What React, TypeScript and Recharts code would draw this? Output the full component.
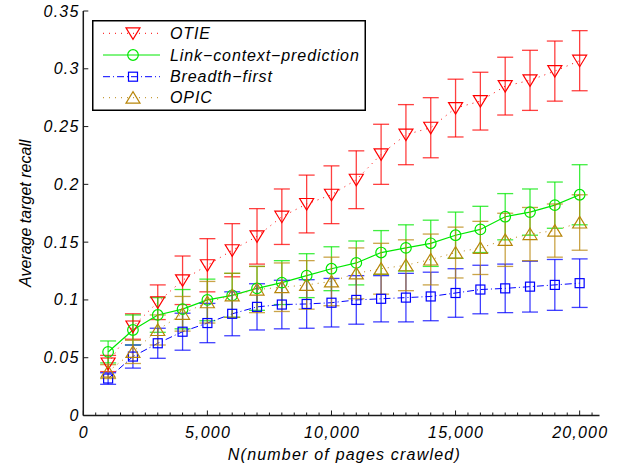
import React from "react";
import { ComposedChart, Line, XAxis, YAxis, ErrorBar, Legend, Label } from "recharts";

const pages = [1000, 2000, 3000, 4000, 5000, 6000, 7000, 8000, 9000, 10000, 11000, 12000, 13000, 14000, 15000, 16000, 17000, 18000, 19000, 20000];

const otie = [0.045, 0.077, 0.098, 0.117, 0.13, 0.143, 0.155, 0.172, 0.183, 0.191, 0.204, 0.226, 0.243, 0.249, 0.266, 0.272, 0.285, 0.29, 0.298, 0.307];
const otieErr = [0.007, 0.011, 0.015, 0.021, 0.023, 0.023, 0.024, 0.024, 0.025, 0.025, 0.025, 0.026, 0.026, 0.026, 0.025, 0.025, 0.025, 0.026, 0.026, 0.026];

const lcp = [0.055, 0.074, 0.087, 0.092, 0.1, 0.104, 0.11, 0.115, 0.121, 0.127, 0.132, 0.141, 0.145, 0.149, 0.156, 0.161, 0.172, 0.176, 0.182, 0.191];
const lcpErr = [0.0095, 0.013, 0.015, 0.017, 0.018, 0.019, 0.019, 0.019, 0.019, 0.019, 0.019, 0.019, 0.02, 0.02, 0.02, 0.02, 0.02, 0.02, 0.02, 0.026];

const bfs = [0.032, 0.051, 0.0625, 0.0725, 0.08, 0.088, 0.094, 0.096, 0.0965, 0.0976, 0.1, 0.101, 0.102, 0.103, 0.106, 0.109, 0.11, 0.1115, 0.113, 0.1145];
const bfsErr = [0.005, 0.01, 0.013, 0.016, 0.017, 0.019, 0.02, 0.021, 0.021, 0.021, 0.021, 0.02, 0.021, 0.021, 0.021, 0.021, 0.021, 0.022, 0.022, 0.021];

const opic = [0.038, 0.055, 0.074, 0.088, 0.098, 0.104, 0.109, 0.111, 0.113, 0.116, 0.123, 0.127, 0.13, 0.135, 0.141, 0.145, 0.152, 0.157, 0.16, 0.167];
const opicErr = [0.006, 0.01, 0.013, 0.015, 0.018, 0.019, 0.02, 0.021, 0.021, 0.021, 0.022, 0.022, 0.022, 0.022, 0.022, 0.023, 0.023, 0.023, 0.023, 0.024];

const xMinor = [0, 500, 1000, 1500, 2000, 2500, 3000, 3500, 4000, 4500, 5000, 5500, 6000, 6500, 7000, 7500, 8000, 8500, 9000, 9500, 10000, 10500, 11000, 11500, 12000, 12500, 13000, 13500, 14000, 14500, 15000, 15500, 16000, 16500, 17000, 17500, 18000, 18500, 19000, 19500, 20000, 20500];
const yTicks = [0, 0.05, 0.1, 0.15, 0.2, 0.25, 0.3, 0.35];

const RED = "#ff0000";
const GREEN = "#00e800";
const BLUE = "#0000ff";
const BROWN = "#b8860b";

const rows = pages.map((x, i) => ({
  x,
  otie: otie[i], otieErr: otieErr[i],
  lcp: lcp[i], lcpErr: lcpErr[i],
  bfs: bfs[i], bfsErr: bfsErr[i],
  opic: opic[i], opicErr: opicErr[i],
}));

const AXIS = "#1a1a1a";
const SPACING = 1.2;

function TriDown({ cx, cy, color }: any) {
  return <polygon points={`${cx - 7},${cy - 5.5} ${cx + 7},${cy - 5.5} ${cx},${cy + 6}`} fill="none" stroke={color} strokeWidth={1.2} />;
}
function TriUp({ cx, cy, color }: any) {
  return <polygon points={`${cx - 7},${cy + 5.5} ${cx + 7},${cy + 5.5} ${cx},${cy - 6}`} fill="none" stroke={color} strokeWidth={1.2} />;
}
function Circ({ cx, cy, color }: any) {
  return <circle cx={cx} cy={cy} r={5.3} fill="none" stroke={color} strokeWidth={1.2} />;
}
function Sq({ cx, cy, color }: any) {
  return <rect x={cx - 4.5} y={cy - 4.5} width={9} height={9} fill="none" stroke={color} strokeWidth={1.2} />;
}

const dotOf = (Shape: any, color: string) => (p: any) =>
  p.cx == null ? <g key={`e${p.index}`} /> : <Shape key={`d${p.index}`} cx={p.cx} cy={p.cy} color={color} />;

// bottom ticks: inward tick lines, labels only at majors
function BottomTick(props: any) {
  const { x, y, payload } = props;
  const v = payload.value;
  const major = v % 5000 === 0;
  const axisY = y - 11.2;
  return (
    <g>
      <line x1={x} x2={x} y1={axisY} y2={axisY - (major ? 5 : 3)} stroke={AXIS} strokeWidth={1} />
      {major && (
        <text x={x + SPACING / 2} y={y + 11.4} textAnchor="middle" fontSize={16} fill="#000" letterSpacing={SPACING}>
          {v.toLocaleString("en-US")}
        </text>
      )}
    </g>
  );
}
function TopTick(props: any) {
  const { x, y, payload } = props;
  const major = payload.value % 5000 === 0;
  return <line x1={x} x2={x} y1={y} y2={y + (major ? 5 : 3)} stroke={AXIS} strokeWidth={1} />;
}
function LeftTick(props: any) {
  const { x, y, payload } = props;
  return (
    <g>
      <line x1={x + 5} x2={x + 10} y1={y} y2={y} stroke={AXIS} strokeWidth={1} />
      <text x={x + SPACING} y={y} textAnchor="end" dominantBaseline="central" fontSize={16} fill="#000" letterSpacing={SPACING}>
        {String(payload.value)}
      </text>
    </g>
  );
}
function RightTick(props: any) {
  const { x, y } = props;
  return <line x1={x} x2={x - 5} y1={y} y2={y} stroke={AXIS} strokeWidth={1} />;
}

const legendItems = [
  { name: "OTIE", color: RED, dash: "1 5", Shape: TriDown },
  { name: "Link\u2212context\u2212prediction", color: GREEN, dash: undefined, Shape: Circ },
  { name: "Breadth\u2212first", color: BLUE, dash: "7 3 1 3", Shape: Sq },
  { name: "OPIC", color: BROWN, dash: "1 5", Shape: TriUp },
];
const legendRowY = [13.3, 35, 56.7, 77.7];

function renderLegend() {
  return (
    <svg width={274} height={91} style={{ display: "block" }}>
      <rect x={0.75} y={0.75} width={272.5} height={89.5} fill="#fff" stroke="#000" strokeWidth={1.5} />
      {legendItems.map((it, i) => (
        <g key={it.name}>
          <line x1={11} x2={68} y1={legendRowY[i]} y2={legendRowY[i]} stroke={it.color} strokeWidth={1} strokeDasharray={it.dash} />
          <it.Shape cx={41} cy={legendRowY[i]} color={it.color} />
          <text x={78} y={legendRowY[i]} dominantBaseline="central" fontSize={16} fill="#000" letterSpacing={0.9}>
            {it.name}
          </text>
        </g>
      ))}
    </svg>
  );
}

export default function App() {
  return (
    <div
      style={{
        position: "absolute",
        left: 0,
        top: 0,
        width: 618,
        height: 466,
        background: "#fff",
        fontFamily: "'Liberation Sans', Arial, sans-serif",
        fontStyle: "italic",
      }}
    >
      <ComposedChart width={618} height={466} data={rows} margin={{ top: 11, right: 18.5, bottom: 0, left: 0 }}>
        <XAxis
          xAxisId="main"
          dataKey="x"
          type="number"
          domain={[0, 20800]}
          allowDataOverflow
          ticks={xMinor}
          interval={0}
          height={50.5}
          tickSize={0}
          tickMargin={11.2}
          tickLine={false}
          tick={<BottomTick />}
          axisLine={{ stroke: AXIS, strokeWidth: 1.5 }}
        >
          <Label value="N(number of pages crawled)" position="insideBottom" offset={6.5} dx={3} fontSize={16} fill="#000" letterSpacing={SPACING} />
        </XAxis>
        <XAxis
          xAxisId="top"
          orientation="top"
          type="number"
          domain={[0, 20800]}
          allowDataOverflow
          ticks={xMinor}
          interval={0}
          height={0}
          tickSize={0}
          tickMargin={0}
          tickLine={false}
          tick={<TopTick />}
          axisLine={{ stroke: AXIS, strokeWidth: 1.5 }}
        />
        <YAxis
          yAxisId="main"
          type="number"
          domain={[0, 0.35]}
          allowDataOverflow
          ticks={yTicks}
          interval={0}
          width={83.3}
          tickSize={0}
          tickMargin={5}
          tickLine={false}
          tick={<LeftTick />}
          axisLine={{ stroke: AXIS, strokeWidth: 1.5 }}
          label={{
            content: ({ viewBox }: any) => {
              const cx = viewBox.x + 25;
              const cy = viewBox.y + viewBox.height / 2;
              return (
                <text x={cx} y={cy} transform={`rotate(-90 ${cx} ${cy})`} textAnchor="middle" dominantBaseline="central" fontSize={16} fill="#000">
                  Average target recall
                </text>
              );
            },
          }}
        />
        <YAxis
          yAxisId="right"
          orientation="right"
          type="number"
          domain={[0, 0.35]}
          allowDataOverflow
          ticks={yTicks}
          interval={0}
          width={0}
          tickSize={0}
          tickMargin={0}
          tickLine={false}
          tick={<RightTick />}
          axisLine={{ stroke: AXIS, strokeWidth: 1.5 }}
        />
        <Legend
          layout="vertical"
          align="center"
          verticalAlign="middle"
          wrapperStyle={{ left: 92, top: 20, width: 274, height: 91 }}
          content={renderLegend}
        />
        <Line xAxisId="main" yAxisId="main" type="linear" dataKey="otie" name="OTIE" stroke={RED} strokeWidth={1} strokeDasharray="1 5" dot={dotOf(TriDown, RED)} activeDot={false} isAnimationActive={false}>
          <ErrorBar dataKey="otieErr" direction="y" width={8} stroke={RED} strokeWidth={1.3} strokeOpacity={0.75} />
        </Line>
        <Line xAxisId="main" yAxisId="main" type="linear" dataKey="lcp" name="Link-context-prediction" stroke={GREEN} strokeWidth={1.2} dot={dotOf(Circ, GREEN)} activeDot={false} isAnimationActive={false}>
          <ErrorBar dataKey="lcpErr" direction="y" width={8} stroke={GREEN} strokeWidth={1.3} strokeOpacity={0.75} />
        </Line>
        <Line xAxisId="main" yAxisId="main" type="linear" dataKey="bfs" name="Breadth-first" stroke={BLUE} strokeWidth={1} strokeDasharray="7 3 1 3" dot={dotOf(Sq, BLUE)} activeDot={false} isAnimationActive={false}>
          <ErrorBar dataKey="bfsErr" direction="y" width={8} stroke={BLUE} strokeWidth={1.3} strokeOpacity={0.75} />
        </Line>
        <Line xAxisId="main" yAxisId="main" type="linear" dataKey="opic" name="OPIC" stroke={BROWN} strokeWidth={1} strokeDasharray="1 5" dot={dotOf(TriUp, BROWN)} activeDot={false} isAnimationActive={false}>
          <ErrorBar dataKey="opicErr" direction="y" width={8} stroke={BROWN} strokeWidth={1.3} strokeOpacity={0.75} />
        </Line>
      </ComposedChart>
    </div>
  );
}
